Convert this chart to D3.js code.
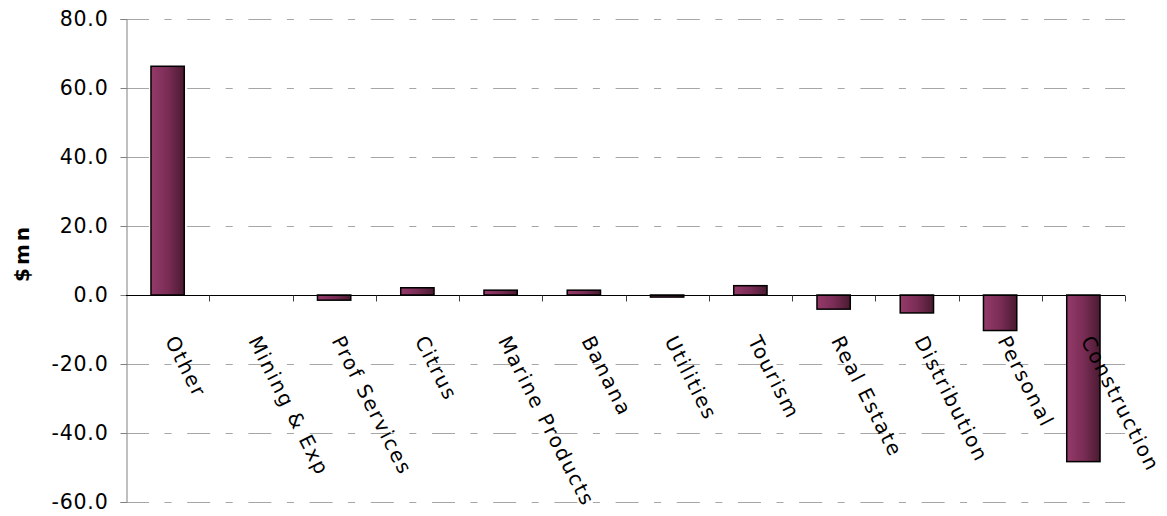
<!DOCTYPE html>
<html>
<head>
<meta charset="utf-8">
<script src="https://cdn.jsdelivr.net/npm/d3@7"></script>
<style>
  html, body { margin: 0; padding: 0; background: #fff; }
  svg { display: block; }
  text { font-family: "DejaVu Sans", Verdana, sans-serif; fill: #000; }
</style>
</head>
<body>
<svg id="chart" width="1167" height="516"></svg>
<script>
// Change by sector, $mn
const categories = ["Other", "Mining & Exp", "Prof Services", "Citrus", "Marine Products",
  "Banana", "Utilities", "Tourism", "Real Estate", "Distribution", "Personal", "Construction"];
const values = [66.3, 0, -1.5, 2.1, 1.4, 1.4, -0.6, 2.7, -4.1, -5.2, -10.3, -48.3];
const yTicks = [-60, -40, -20, 0, 20, 40, 60, 80];
const yTitle = "$mn";

const svg = d3.select("#chart");
const plot = { left: 126, right: 1125, top: 19, bottom: 502 };

const x = d3.scaleBand()
  .domain(categories)
  .range([plot.left, plot.right])
  .paddingInner(0.6)
  .paddingOuter(0.3);

const y = d3.scaleLinear()
  .domain([-60, 80])
  .range([plot.bottom, plot.top]);

// Bar fill: horizontal shading from plum to deep wine
const defs = svg.append("defs");
const grad = defs.append("linearGradient")
  .attr("id", "barFill")
  .attr("x1", "0").attr("x2", "1").attr("y1", "0").attr("y2", "0");
grad.append("stop").attr("offset", "0").attr("stop-color", "#953a6a");
grad.append("stop").attr("offset", "0.5").attr("stop-color", "#7a2d56");
grad.append("stop").attr("offset", "1").attr("stop-color", "#4a1a31");

// Horizontal gridlines (dash-dot style)
svg.append("g")
  .selectAll("line")
  .data(yTicks.filter(d => d !== 0))
  .join("line")
  .attr("x1", plot.left).attr("x2", plot.right)
  .attr("y1", d => y(d) + 0.5).attr("y2", d => y(d) + 0.5)
  .attr("stroke", "#a6a6a6")
  .attr("stroke-width", 1)
  .attr("stroke-dasharray", "23,15.5,7,15.7");

// Bars
svg.append("g")
  .selectAll("rect")
  .data(categories.map((c, i) => ({ c, v: values[i] })).filter(d => d.v !== 0))
  .join("rect")
  .attr("x", d => x(d.c))
  .attr("width", x.bandwidth())
  .attr("y", d => y(Math.max(0, d.v)))
  .attr("height", d => Math.abs(y(d.v) - y(0)))
  .attr("fill", "url(#barFill)")
  .attr("stroke", "#000")
  .attr("stroke-width", 1.5);

// Y axis (plain hyphen for negatives)
const yAxis = svg.append("g")
  .attr("transform", `translate(${plot.left + 0.5},0)`)
  .call(d3.axisLeft(y).tickValues(yTicks).tickSize(6).tickPadding(12).tickFormat(d => d.toFixed(1)));
yAxis.select(".domain").attr("stroke", "#808080");
yAxis.selectAll(".tick line").attr("stroke", "#808080");
yAxis.selectAll(".tick text")
  .style("font-size", "20.5px")
  .style("letter-spacing", "0.8px")
  .attr("fill", "#000");

// X axis along the zero line, ticks between categories
const zeroY = y(0) + 0.5;
const boundaries = d3.range(categories.length + 1).map(i => plot.left + i * (plot.right - plot.left) / categories.length);
svg.append("line")
  .attr("x1", plot.left).attr("x2", plot.right)
  .attr("y1", zeroY).attr("y2", zeroY)
  .attr("stroke", "#000").attr("stroke-width", 1);
svg.append("g")
  .selectAll("line")
  .data(boundaries.slice(1))
  .join("line")
  .attr("x1", d => Math.round(d) + 0.5).attr("x2", d => Math.round(d) + 0.5)
  .attr("y1", zeroY).attr("y2", zeroY + 6)
  .attr("stroke", "#404040");

// Category labels, rotated
svg.append("g")
  .selectAll("text")
  .data(categories)
  .join("text")
  .attr("transform", d => `translate(${x(d) + x.bandwidth() / 2 - 3},${zeroY + 45}) rotate(63)`)
  .attr("text-anchor", "start")
  .style("font-size", "20px")
  .style("letter-spacing", "1.8px")
  .text(d => d);

// Y axis title
svg.append("text")
  .attr("transform", `translate(29,253) rotate(-90)`)
  .attr("text-anchor", "middle")
  .style("font-size", "20px")
  .style("font-weight", "bold")
  .style("letter-spacing", "3px")
  .text(yTitle);
</script>
</body>
</html>
